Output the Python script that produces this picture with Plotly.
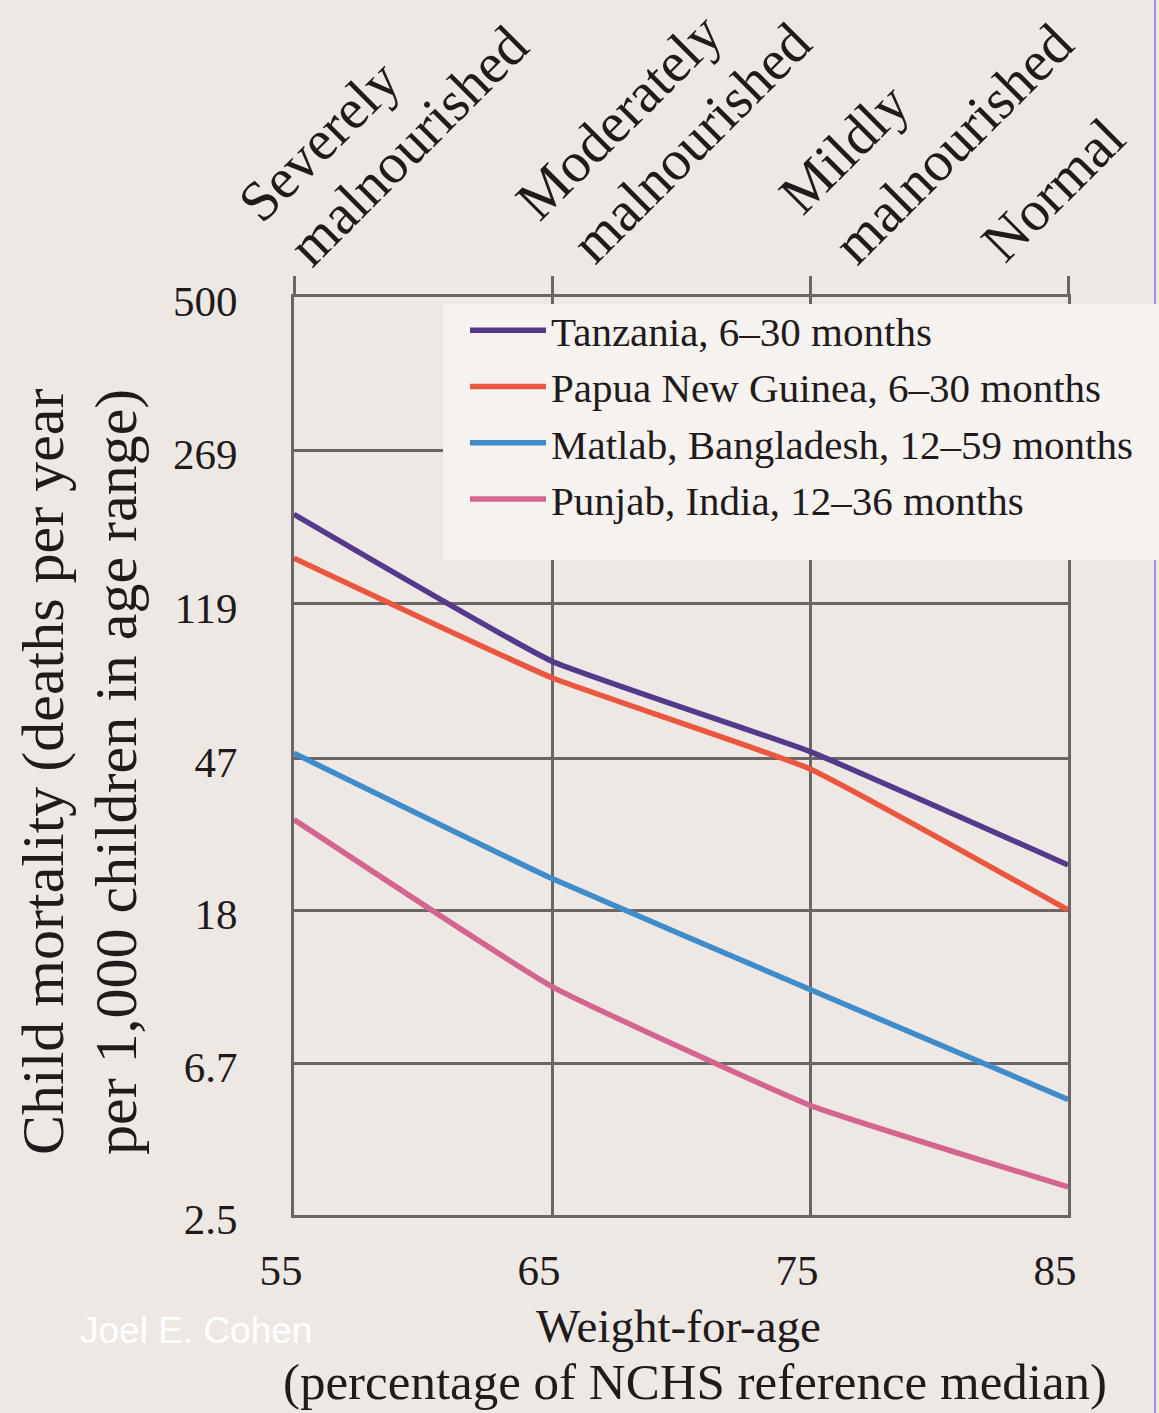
import numpy as np
import plotly.graph_objects as go

# Weight-for-age, percentage of the NCHS reference median
weight_for_age = [55, 65, 75, 85]

# Child mortality, deaths per year per 1,000 children in the age range
tanzania = [195, 85, 49, 24]
papua_new_guinea = [154, 77, 44, 18]
matlab_bangladesh = [48.5, 22, 10.8, 5.3]
punjab_india = [32, 11, 5.1, 3.0]

series_values = [tanzania, papua_new_guinea, matlab_bangladesh, punjab_india]
series_labels = [
    "Tanzania, 6–30 months",
    "Papua New Guinea, 6–30 months",
    "Matlab, Bangladesh, 12–59 months",
    "Punjab, India, 12–36 months",
]
series_colors = ["#553a8c", "#e9573f", "#3f8ccb", "#d4658e"]

mortality_ticks = [2.5, 6.7, 18, 47, 119, 269, 500]
mortality_tick_labels = ["2.5", "6.7", "18", "47", "119", "269", "500"]

nutrition_status = [
    ["Severely", "malnourished"],
    ["Moderately", "malnourished"],
    ["Mildly", "malnourished"],
    ["Normal"],
]


def logit_per_thousand(values):
    """Mortality per 1,000 on a logit scale (evenly spaced grid)."""
    p = np.asarray(values, dtype=float) / 1000.0
    return np.log(p / (1.0 - p))


BG = "#eee8e5"
BOX = "#f5f2f0"
GRID = "#6c6565"
INK = "#211a1a"
SERIF = "Liberation Serif, Times New Roman, serif"

# plot-area geometry (pixels)
W, H = 1159, 1413
L, R, T, B = 294, 91, 297, 198
PW, PH = W - L - R, H - T - B


def px_x(px):
    return (px - L) / PW


def px_y(py):
    return (H - B - py) / PH


fig = go.Figure()

for values, label, color in zip(series_values, series_labels, series_colors):
    fig.add_trace(
        go.Scatter(
            x=weight_for_age,
            y=logit_per_thousand(values),
            name=label,
            mode="lines",
            line=dict(color=color, width=5.5, shape="spline", smoothing=0.35),
            customdata=values,
            hovertemplate="%{x}%: %{customdata} per 1,000<extra>" + label + "</extra>",
        )
    )

# carrier for the top category axis
fig.add_trace(
    go.Scatter(
        x=weight_for_age,
        y=logit_per_thousand(tanzania),
        xaxis="x2",
        mode="markers",
        marker=dict(opacity=0),
        showlegend=False,
        hoverinfo="skip",
    )
)

y_range = [float(logit_per_thousand([mortality_ticks[0]])[0]),
           float(logit_per_thousand([mortality_ticks[-1]])[0])]

fig.update_layout(
    width=W,
    height=H,
    margin=dict(l=L, r=R, t=T, b=B),
    paper_bgcolor=BG,
    plot_bgcolor=BG,
    font=dict(family=SERIF, color=INK),
    showlegend=True,
    legend=dict(
        x=px_x(443),
        y=px_y(297),
        xanchor="left",
        yanchor="top",
        bgcolor="rgba(0,0,0,0)",
        borderwidth=0,
        font=dict(family=SERIF, size=41, color=INK),
        indentation=22,
        itemwidth=76,
    ),
    xaxis=dict(
        range=[weight_for_age[0], weight_for_age[-1]],
        tickvals=weight_for_age,
        ticktext=[str(v) for v in weight_for_age],
        showgrid=True,
        gridcolor=GRID,
        gridwidth=3,
        zeroline=False,
        showline=True,
        linecolor=GRID,
        linewidth=3,
        mirror=True,
        ticks="",
        tickfont=dict(family=SERIF, size=43, color=INK),
        ticklabelstandoff=15,
        ticklabelshift=-13,
    ),
    xaxis2=dict(
        overlaying="x",
        side="top",
        range=[weight_for_age[0], weight_for_age[-1]],
        tickvals=weight_for_age,
        showticklabels=False,
        ticks="outside",
        ticklen=20,
        tickwidth=3,
        tickcolor=GRID,
        showgrid=False,
        zeroline=False,
        showline=False,
    ),
    yaxis=dict(
        range=y_range,
        tickvals=logit_per_thousand(mortality_ticks),
        ticktext=mortality_tick_labels,
        showgrid=True,
        gridcolor=GRID,
        gridwidth=3,
        zeroline=False,
        showline=True,
        linecolor=GRID,
        linewidth=3,
        mirror=True,
        ticks="",
        tickfont=dict(family=SERIF, size=43, color=INK),
        ticklabelstandoff=45,
        ticklabelshift=4,
    ),
)

annotations = []

# rotated nutritional-status labels above the top axis;
# offsets give the start of each text baseline relative to the top tick
label_size = 57
baseline_offsets = [
    [(-52, -75), (-2, -31)],
    [(-33, -77), (23, -34)],
    [(-28, -83), (27, -33)],
    [(-83, -35)],
]
box_h = 1.11 * label_size + 2
desc = 0.216 * label_size + 1
for value, lines, offsets in zip(weight_for_age, nutrition_status, baseline_offsets):
    for text, (dx, dy) in zip(lines, offsets):
        # anchor the rotated text box by its lower-left corner
        ax_shift = dx - 0.7071 * box_h + 0.7071 * desc + 18
        ay_shift = -(dy + 0.7071 * desc) - 5
        annotations.append(
            dict(
                text=text,
                x=value,
                xref="x",
                y=1,
                yref="paper",
                xanchor="left",
                yanchor="bottom",
                xshift=ax_shift,
                yshift=ay_shift,
                textangle=-45,
                showarrow=False,
                font=dict(family=SERIF, size=label_size, color=INK),
            )
        )

# y-axis title, two rotated lines
for text, cx in [("Child mortality (deaths per year", 43), ("per 1,000 children in age range)", 116)]:
    annotations.append(
        dict(
            text=text,
            x=px_x(cx),
            xref="paper",
            y=px_y(772),
            yref="paper",
            xanchor="center",
            yanchor="middle",
            textangle=-90,
            showarrow=False,
            font=dict(family=SERIF, size=60, color=INK),
        )
    )

# x-axis title, two tightly set lines
for text, cx, cy, size in [
    ("Weight-for-age", 678, 1326, 47),
    ("(percentage of NCHS reference median)", 695, 1382, 51),
]:
    annotations.append(
        dict(
            text=text,
            x=px_x(cx),
            xref="paper",
            y=px_y(cy),
            yref="paper",
            xanchor="center",
            yanchor="middle",
            borderpad=0,
            showarrow=False,
            font=dict(family=SERIF, size=size, color=INK),
        )
    )

# credit
annotations.append(
    dict(
        text="Joel E. Cohen",
        x=px_x(78),
        xref="paper",
        y=px_y(1330),
        yref="paper",
        xanchor="left",
        yanchor="middle",
        showarrow=False,
        font=dict(family="Liberation Sans, Arial, sans-serif", size=37, color="#ffffff"),
    )
)

fig.update_layout(annotations=annotations)

# thin page edge on the right, then the legend panel over it
fig.add_shape(
    type="line",
    xref="paper",
    yref="paper",
    x0=px_x(1155),
    x1=px_x(1155),
    y0=px_y(0),
    y1=px_y(H),
    line=dict(color="#9d94df", width=2),
    layer="above",
)
fig.add_shape(
    type="rect",
    xref="paper",
    yref="paper",
    x0=px_x(443),
    x1=px_x(W + 2),
    y0=px_y(560),
    y1=px_y(304),
    fillcolor=BOX,
    line=dict(width=0),
    layer="above",
)

fig.write_html("out.html")
